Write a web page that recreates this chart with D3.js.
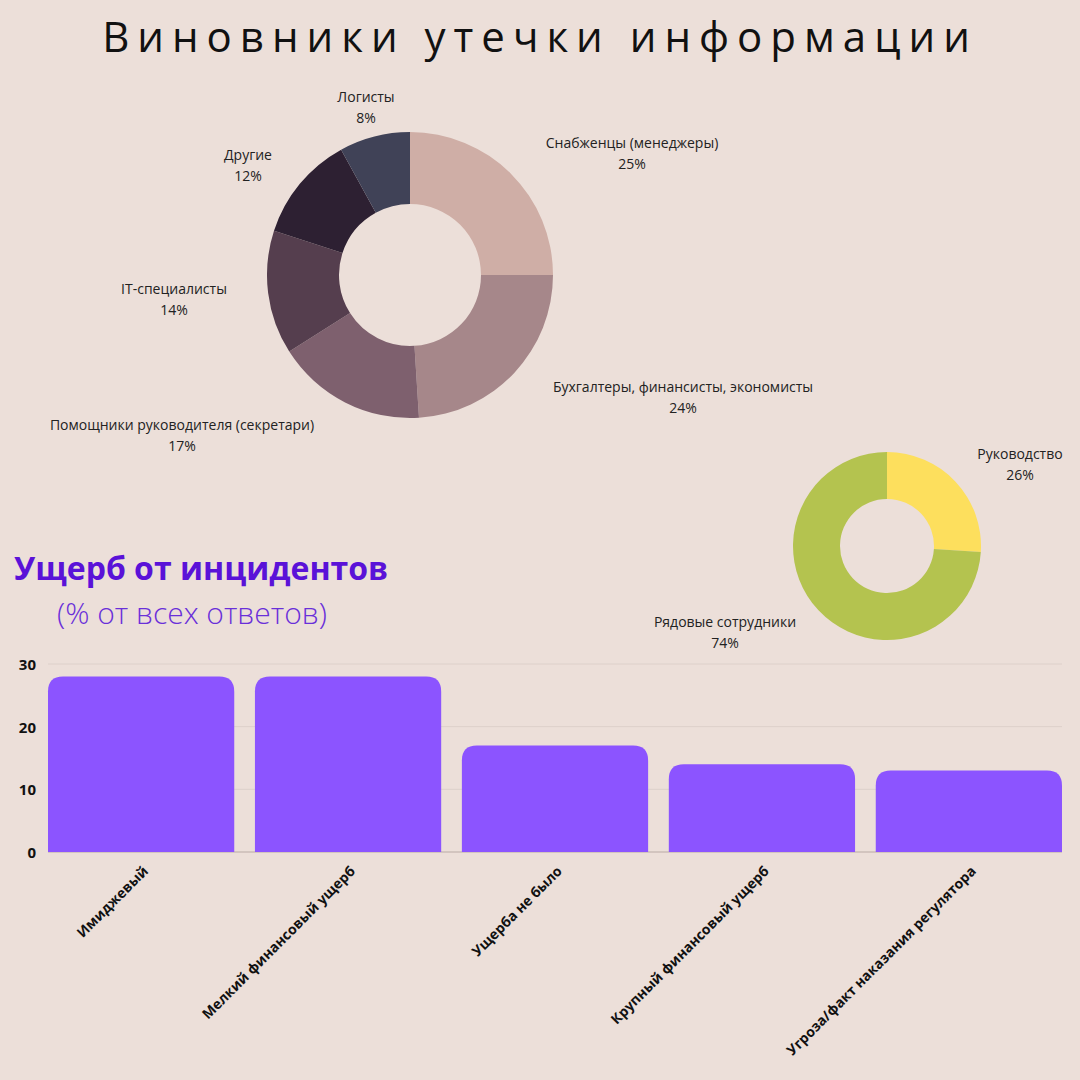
<!DOCTYPE html>
<html><head><meta charset="utf-8">
<script src="https://cdn.jsdelivr.net/npm/d3@7"></script>
<style>body{margin:0;background:#ecdfd9}</style></head>
<body><svg id="c" width="1080" height="1080"></svg>
<script>
const roles = ["Снабженцы (менеджеры)","Бухгалтеры, финансисты, экономисты","Помощники руководителя (секретари)","IT-специалисты","Другие","Логисты"];
const roleValues = [25,24,17,14,12,8];
const roleColors = ["#cfaea6","#a6878a","#7e606e","#553e4e","#2d2032","#404257"];
const roleLabelPos = [[632,148],[683,392],[182,430],[174,294],[248,160],[366,102]];
const levels = ["Руководство","Рядовые сотрудники"];
const levelValues = [26,74];
const levelColors = ["#fddf5d","#b4c34f"];
const levelLabelPos = [[1020,459],[725,627]];
const damage = ["Имиджевый","Мелкий финансовый ущерб","Ущерба не было","Крупный финансовый ущерб","Угроза/факт наказания регулятора"];
const damageValues = [28,28,17,14,13];
const yTicks = [0,10,20,30];

const svg = d3.select("#c");
svg.append("rect").attr("width",1080).attr("height",1080).attr("fill","#ecdfd9");
svg.append("text").attr("x",540).attr("y",52).attr("text-anchor","middle")
  .attr("font-family","Open Sans").attr("font-size",42).attr("letter-spacing",8).attr("fill","#111")
  .text("Виновники утечки информации");

function donut(cx,cy,ro,ri,vals,cols,labels,names){
  const g = svg.append("g").attr("transform",`translate(${cx},${cy})`);
  const arcs = d3.pie().sort(null)(vals);
  const arc = d3.arc().innerRadius(ri).outerRadius(ro);
  g.selectAll("path").data(arcs).join("path").attr("d",arc).attr("fill",(d,i)=>cols[i]);
  names.forEach((n,i)=>{
    const t = svg.append("text").attr("text-anchor","middle").attr("font-family","Open Sans")
      .attr("font-size",14).attr("fill","#222");
    t.append("tspan").attr("x",labels[i][0]).attr("y",labels[i][1]).text(n);
    t.append("tspan").attr("x",labels[i][0]).attr("dy",21).text(vals[i]+"%");
  });
}
donut(410,275,143,71,roleValues,roleColors,roleLabelPos,roles);
donut(887,546,94,47,levelValues,levelColors,levelLabelPos,levels);

svg.append("text").attr("x",14).attr("y",580).attr("font-family","Open Sans").attr("font-weight",700)
  .attr("font-size",32).attr("fill","#5a12d8").text("Ущерб от инцидентов");
svg.append("text").attr("x",57).attr("y",624).attr("font-family","Open Sans").attr("font-weight",300)
  .attr("font-size",30).attr("fill","#6a2fd9").text("(% от всех ответов)");

const x = d3.scaleBand().domain(damage).range([48,1062]).paddingInner(0.1).paddingOuter(0);
const y = d3.scaleLinear().domain([0,30]).range([852,664]);
yTicks.forEach(t=>{
  svg.append("line").attr("x1",48).attr("x2",1062).attr("y1",y(t)).attr("y2",y(t))
    .attr("stroke",t===0?"#b9aaa5":"#ddd0ca").attr("stroke-width",1);
  svg.append("text").attr("x",36).attr("y",y(t)+6).attr("text-anchor","end")
    .attr("font-family","Open Sans").attr("font-weight",700).attr("font-size",15).attr("fill","#111").text(t);
});
const r=15;
damage.forEach((d,i)=>{
  const x0=x(d), w=x.bandwidth(), y0=y(damageValues[i]), yb=y(0);
  svg.append("path").attr("fill","#8c54ff")
    .attr("d",`M${x0},${yb}V${y0+r}Q${x0},${y0} ${x0+r},${y0}H${x0+w-r}Q${x0+w},${y0} ${x0+w},${y0+r}V${yb}Z`);
  const cx=x0+w/2;
  svg.append("text").attr("transform",`translate(${cx+8},${872}) rotate(-45)`).attr("text-anchor","end")
    .attr("font-family","Open Sans").attr("font-weight",700).attr("font-size",14).attr("fill","#111").text(d);
});
</script></body></html>
